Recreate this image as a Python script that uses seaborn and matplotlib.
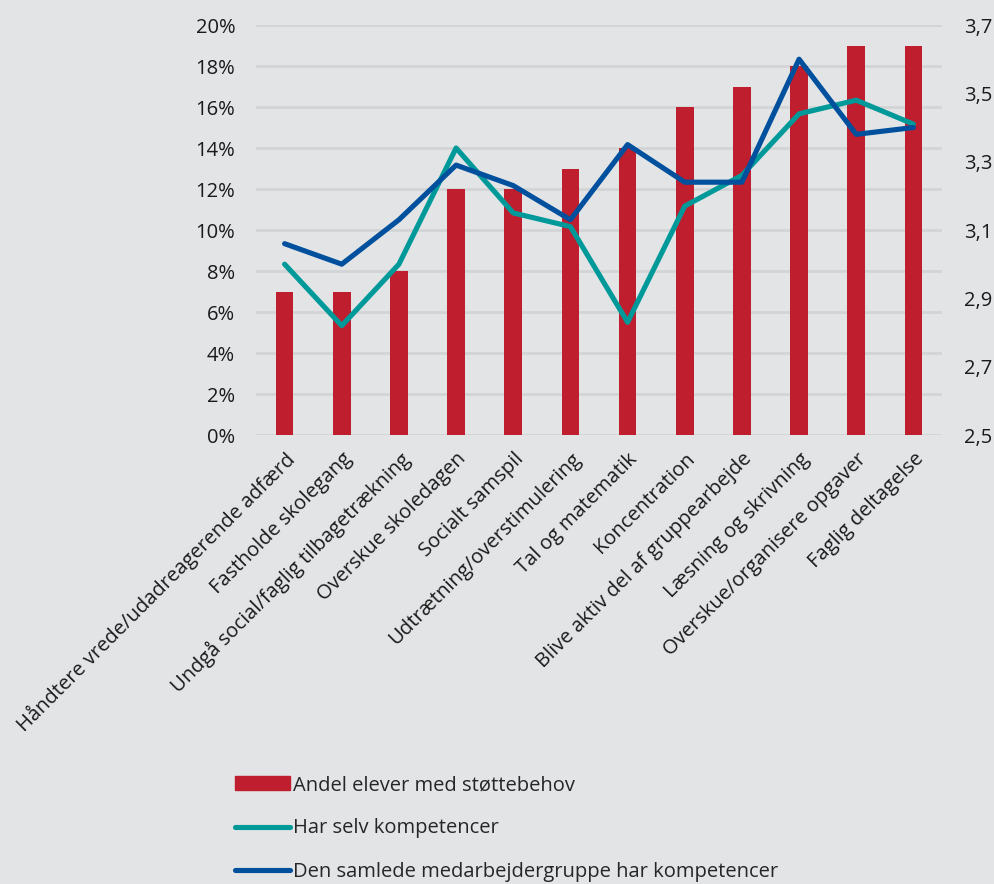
import numpy as np
import pandas as pd
import matplotlib.pyplot as plt
import seaborn as sns
from matplotlib.patches import Patch
from matplotlib.lines import Line2D

categories = ["Håndtere vrede/udadreagerende adfærd", "Fastholde skolegang",
              "Undgå social/faglig tilbagetrækning", "Overskue skoledagen",
              "Socialt samspil", "Udtrætning/overstimulering", "Tal og matematik",
              "Koncentration", "Blive aktiv del af gruppearbejde",
              "Læsning og skrivning", "Overskue/organisere opgaver", "Faglig deltagelse"]
andel = [7, 7, 8, 12, 12, 13, 14, 16, 17, 18, 19, 19]
selv = [3.00, 2.82, 3.00, 3.34, 3.15, 3.11, 2.83, 3.17, 3.26, 3.44, 3.48, 3.41]
samlede = [3.06, 3.00, 3.13, 3.29, 3.23, 3.13, 3.35, 3.24, 3.24, 3.60, 3.38, 3.40]

bg = "#e3e4e6"
red = "#be1e2d"
teal = "#00999a"
blue = "#00509d"
fs = 14.5

sns.set_style("white")
plt.rcParams['font.family'] = ['Open Sans', 'DejaVu Sans']

df = pd.DataFrame({"kat": categories, "andel": andel, "selv": selv, "samlede": samlede})

fig = plt.figure(figsize=(9.95, 8.84), dpi=100, facecolor=bg)
ax = fig.add_axes([0.2573, 0.5079, 0.6894, 0.4638])
ax.set_facecolor(bg)

sns.barplot(data=df, x="kat", y="andel", color=red, width=0.31, saturation=1,
            linewidth=0, edgecolor=red, ax=ax)
ax.set_ylim(0, 20)
ax.set_yticks(range(0, 21, 2))
ax.set_yticklabels([f"{v}%" for v in range(0, 21, 2)], fontsize=fs, color="#1a1a1a")
ax.set_xlim(-0.5, len(categories) - 0.5)
ax.set_xlabel("")
ax.set_ylabel("")
ax.set_xticks(range(len(categories)))
ax.set_xticklabels(categories, rotation=45, ha="right", rotation_mode="anchor",
                   fontsize=fs, color="#1a1a1a")
ax.tick_params(axis="y", length=0, pad=15)
ax.tick_params(axis="x", length=0, pad=10)
for v in range(0, 21, 2):
    ax.axhline(v, color="#d3d4d6", lw=2, zorder=0)
for s in ax.spines.values():
    s.set_visible(False)

ax2 = ax.twinx()
xs = np.arange(len(categories))
sns.lineplot(x=xs, y=df["selv"], color=teal, lw=3.7, ax=ax2)
sns.lineplot(x=xs, y=df["samlede"], color=blue, lw=3.7, ax=ax2)
ax2.set_ylim(2.5, 3.7)
ax2.set_yticks(np.arange(2.5, 3.71, 0.2))
ax2.set_yticklabels([f"{v:.1f}".replace(".", ",") for v in np.arange(2.5, 3.71, 0.2)],
                    fontsize=fs, color="#1a1a1a")
ax2.set_ylabel("")
ax2.tick_params(length=0, pad=16)
for s in ax2.spines.values():
    s.set_visible(False)
ax.set_xlim(-0.5, len(categories) - 0.5)

handles = [Patch(color=red), Line2D([], [], color=teal, lw=3.7, solid_capstyle="round"),
           Line2D([], [], color=blue, lw=3.7, solid_capstyle="round")]
labels = ["Andel elever med støttebehov", "Har selv kompetencer",
          "Den samlede medarbejdergruppe har kompetencer"]
fig.legend(handles, labels, loc="upper left", bbox_to_anchor=(0.236, 0.123),
           frameon=False, fontsize=fs, labelspacing=1.15, handlelength=2.75,
           handletextpad=0.15, handleheight=0.65, borderpad=0, borderaxespad=0)

fig.savefig("out.png", dpi=100, facecolor=bg)
